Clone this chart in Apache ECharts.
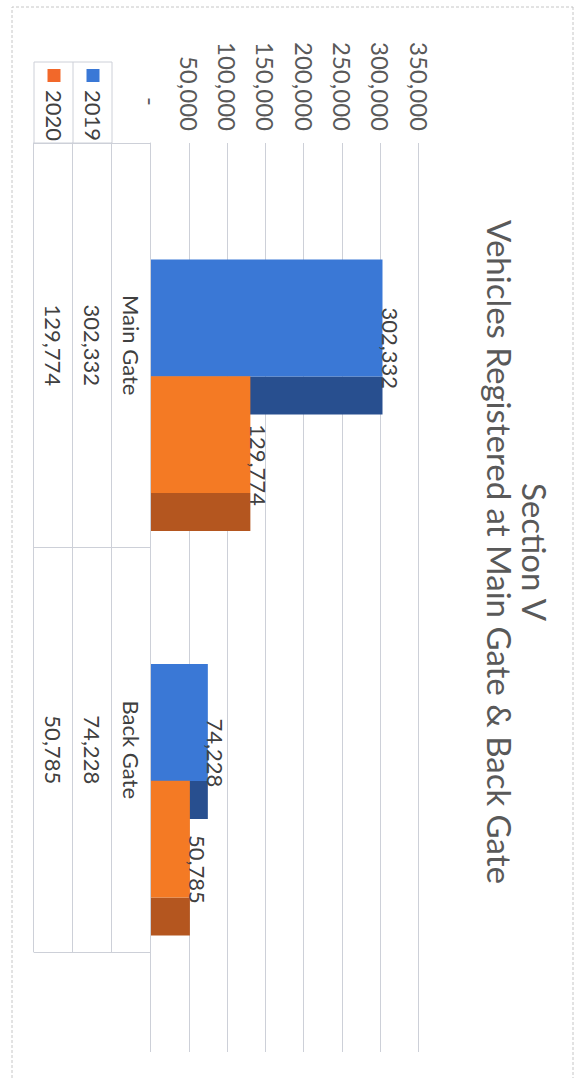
<!DOCTYPE html>
<html>
<head>
<meta charset="utf-8">
<script src="https://cdn.jsdelivr.net/npm/echarts@6/dist/echarts.min.js"></script>
<style>
html, body { margin: 0; padding: 0; background: #ffffff; width: 586px; height: 1078px; overflow: hidden; }
#chart { position: absolute; left: 0; top: 0; width: 1078px; height: 586px; transform-origin: 0 0; transform: translate(586px, 0) rotate(90deg); }
</style>
</head>
<body>
<div id="chart"></div>
<script>
// ---- data ----
const titleLines = ['Section V', 'Vehicles Registered at Main Gate & Back Gate'];
const categories = ['Main Gate', 'Back Gate'];
const seriesNames = ['2019', '2020'];
const values2019 = [302332, 74228];
const values2020 = [129774, 50785];
const valueTicks = ['-', '50,000', '100,000', '150,000', '200,000', '250,000', '300,000', '350,000'];
const tickStep = 50000;
const valueMax = 350000;

// ---- style ----
const FONT = 'Lato';
const gridColor = '#cdd0d8';
const frontColors = ['#3a78d6', '#f47a24'];
const sideColors = ['#284f8f', '#b4561f'];
const legendColors = ['#3a78d6', '#f2682a'];
const frontStart = [-0.212, 0.0765]; // fraction of band from category centre
const frontW = 0.289, sideW = 0.094, labelShift = 0.075;

function fmt(v) { return String(v).replace(/\B(?=(\d{3})+(?!\d))/g, ','); }

function make3DSeries(idx, values) {
  return {
    type: 'custom',
    name: seriesNames[idx],
    xAxisIndex: 0, yAxisIndex: 0,
    itemStyle: { color: legendColors[idx] },
    encode: { x: 0, y: 1 },
    data: values.map((v, i) => [i, v]),
    renderItem: function (params, api) {
      const cat = api.value(0), val = api.value(1);
      const top = api.coord([cat, val]);
      const base = api.coord([cat, 0]);
      const band = api.size([1, 0])[0];
      const fs = top[0] + frontStart[idx] * band;
      const fw = frontW * band, sw = sideW * band;
      const h = base[1] - top[1];
      return {
        type: 'group',
        children: [
          { type: 'rect', shape: { x: fs + fw, y: top[1], width: sw, height: h }, style: { fill: sideColors[idx] } },
          { type: 'rect', shape: { x: fs, y: top[1], width: fw, height: h }, style: { fill: frontColors[idx] } },
          { type: 'text', style: { text: fmt(val), x: fs + fw / 2 + labelShift * band, y: top[1] + 3,
              align: 'center', textAlign: 'center', verticalAlign: 'bottom', textVerticalAlign: 'bottom',
              fontSize: 22, fontFamily: FONT, fill: '#404040' } }
        ]
      };
    }
  };
}

const tableAxis = (offset, labels, showTicks) => ({
  type: 'category', gridIndex: 0, position: 'bottom', offset: offset,
  data: categories,
  axisLine: { show: true, lineStyle: { color: gridColor, width: 1 } },
  axisTick: { show: showTicks, length: 39, interval: 0, lineStyle: { color: gridColor, width: 1 } },
  axisLabel: { show: !!labels, interval: 0, margin: 9, fontSize: 22, fontFamily: FONT, color: '#404040',
    formatter: (v, i) => labels ? labels[i] : '' },
  splitLine: { show: false }
});

const chart = echarts.init(document.getElementById('chart'), null, { renderer: 'svg' });
chart.setOption({
  backgroundColor: '#ffffff',
  animation: false,
  title: {
    text: titleLines.join('\n'),
    left: 547, top: 29, textAlign: 'center',
    textStyle: { fontFamily: FONT, fontSize: 33, fontWeight: 'normal', color: '#595959', lineHeight: 35 }
  },
  legend: {
    orient: 'vertical', left: 69, top: 481, padding: 0,
    itemWidth: 13, itemHeight: 13, itemGap: 15, selectedMode: false,
    data: seriesNames.map((n, i) => ({ name: n, icon: 'rect', itemStyle: { color: legendColors[i] } })),
    textStyle: { fontFamily: FONT, fontSize: 22, color: '#404040', lineHeight: 24, padding: [0, 0, 0, 3] }
  },
  grid: [
    { left: 143, right: 126, top: 167, bottom: 151 },
    { left: 143, right: 26, top: 167, bottom: 151 }
  ],
  xAxis: [
    tableAxis(0, categories, true),
    tableAxis(39, values2019.map(fmt), true),
    tableAxis(78, values2020.map(fmt), true),
    tableAxis(117, null, false),
    { type: 'value', gridIndex: 1, show: false }
  ],
  yAxis: [
    {
      type: 'value', gridIndex: 0, min: 0, max: valueMax, interval: tickStep,
      axisLine: { show: false }, axisTick: { show: false }, splitLine: { show: false },
      axisLabel: {
        margin: 12, fontSize: 24, fontFamily: FONT, color: '#595959',
        formatter: (v) => { const i = Math.round(v / tickStep); return i === 0 ? '{dash|' + valueTicks[0] + '}' : valueTicks[i]; },
        rich: { dash: { fontSize: 24, fontFamily: FONT, color: '#595959', padding: [0, 25, 0, 0] } }
      }
    },
    {
      type: 'value', gridIndex: 1, min: 0, max: valueMax, interval: tickStep,
      axisLine: { show: false }, axisTick: { show: false }, axisLabel: { show: false },
      splitLine: { show: true, lineStyle: { color: gridColor, width: 1 } }
    }
  ],
  graphic: [
    { type: 'rect', silent: true, z: -10, shape: { x: 7, y: 13, width: 1100, height: 561 },
      style: { fill: 'none', stroke: '#c6c6c6', lineWidth: 1, lineDash: [3, 2] } },
    { type: 'rect', silent: true, shape: { x: 62, y: 474, width: 81, height: 78 },
      style: { fill: 'none', stroke: gridColor, lineWidth: 1 } },
    { type: 'line', silent: true, shape: { x1: 62, y1: 513, x2: 143, y2: 513 },
      style: { stroke: gridColor, lineWidth: 1 } }
  ],
  series: [make3DSeries(0, values2019), make3DSeries(1, values2020)]
});
</script>
</body>
</html>
